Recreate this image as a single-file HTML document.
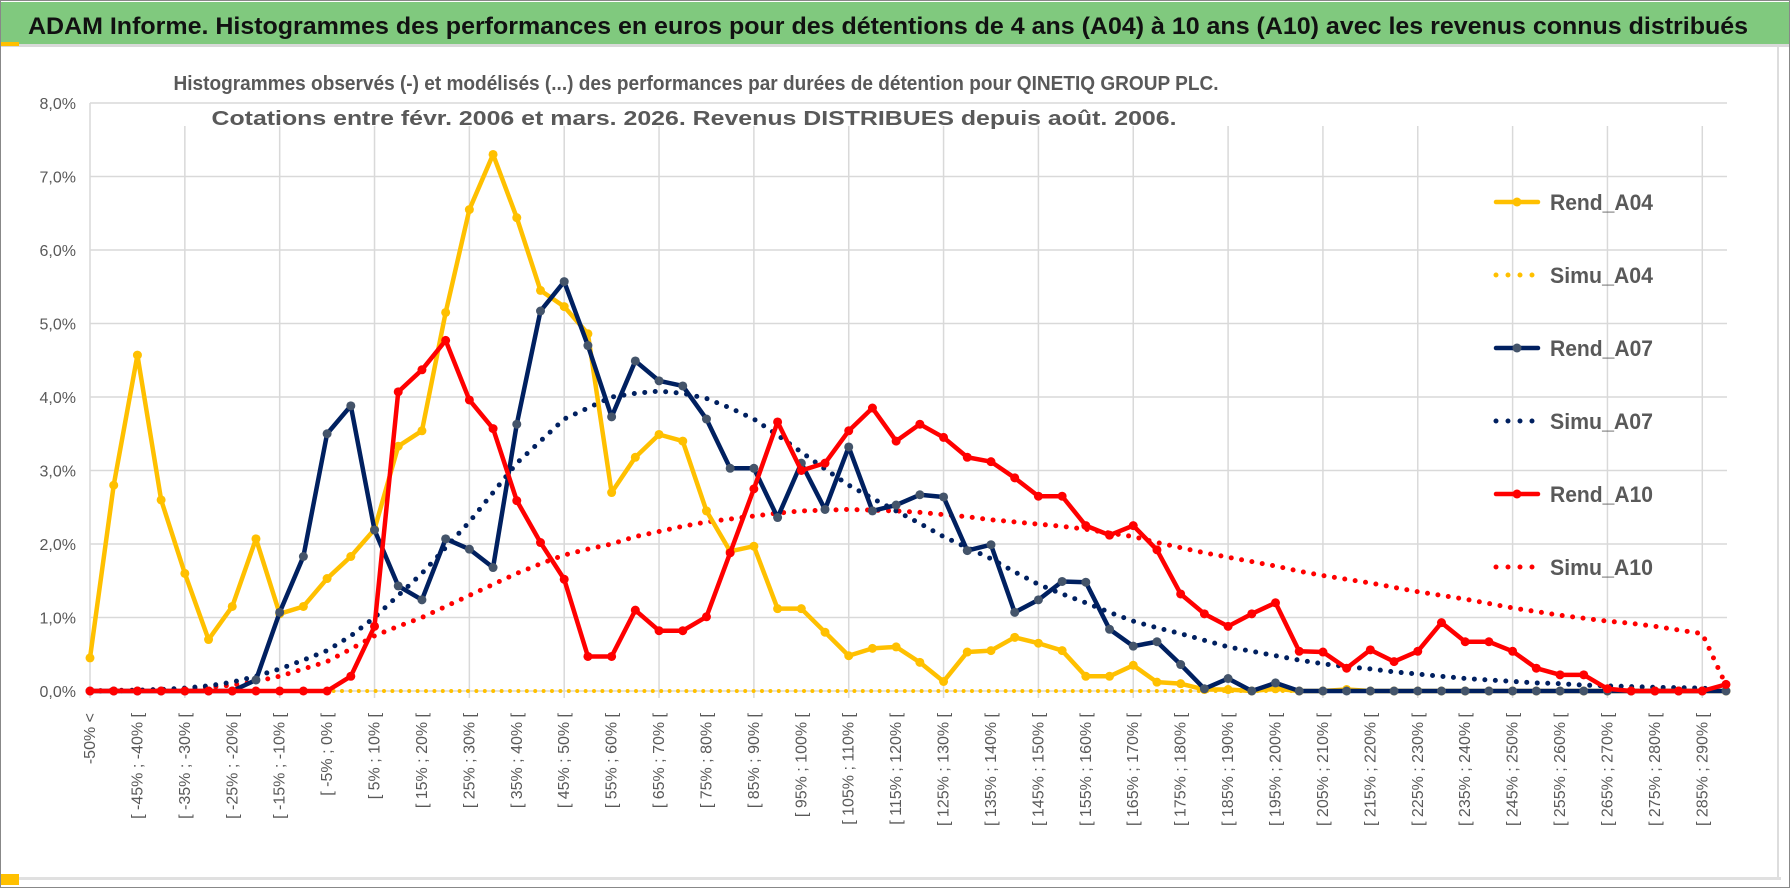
<!DOCTYPE html>
<html><head><meta charset="utf-8"><style>
html,body{margin:0;padding:0;background:#fff;}
svg{display:block;font-family:"Liberation Sans",sans-serif;}
</style></head><body>
<svg id="chart" width="1790" height="888" viewBox="0 0 1790 888">
<rect x="0.5" y="0.5" width="1789" height="887" fill="#fff" stroke="#888"/>
<rect x="1" y="2" width="1788" height="42" fill="#80C97E"/>
<rect x="1" y="44" width="1788" height="3" fill="#d9d9d9"/>
<rect x="1" y="42" width="18" height="4" fill="#FFC000"/>
<text x="28" y="34" font-size="24" font-weight="bold" fill="#111" textLength="1720" lengthAdjust="spacingAndGlyphs">ADAM Informe. Histogrammes des performances en euros pour des détentions de 4 ans (A04) à 10 ans (A10) avec les revenus connus distribués</text>
<rect x="1" y="877" width="1780" height="3" fill="#e0e0e0"/>
<rect x="1" y="874" width="18" height="11" fill="#FFC000"/>
<rect x="1777" y="47" width="2" height="830" fill="#ddd"/>
<g id="grid"></g>
<text x="696" y="90" font-size="20" font-weight="bold" fill="#595959" text-anchor="middle" textLength="1045" lengthAdjust="spacingAndGlyphs">Histogrammes observés (-) et modélisés (...) des performances par durées de détention pour QINETIQ GROUP PLC.</text>
<text x="694" y="125" font-size="20" font-weight="bold" fill="#595959" text-anchor="middle" textLength="965" lengthAdjust="spacingAndGlyphs">Cotations entre févr. 2006 et mars. 2026. Revenus DISTRIBUES depuis août. 2006.</text>
<g id="yaxis"></g>
<g id="xaxis"></g>
<g id="series"></g>
<g id="legend"></g>
</svg>
<script>
const yTicks = [0,1,2,3,4,5,6,7,8];
const yTickLabels = ["0,0%","1,0%","2,0%","3,0%","4,0%","5,0%","6,0%","7,0%","8,0%"];
const categories = (function(){const c=["-50% <"];for(let a=-50;a<295;a+=5){c.push("[ "+a+"% ; "+(a+5)+"% [");}return c;})();
const rendA04 = [0.45,2.8,4.57,2.6,1.6,0.7,1.15,2.07,1.05,1.15,1.53,1.83,2.2,3.33,3.54,5.15,6.55,7.3,6.44,5.45,5.23,4.86,2.7,3.18,3.49,3.4,2.45,1.9,1.97,1.12,1.12,0.8,0.48,0.58,0.6,0.39,0.13,0.53,0.55,0.73,0.65,0.55,0.2,0.2,0.35,0.12,0.1,0.02,0.02,0,0.03,0,0,0.02,0,0,0,0,0,0,0,0,0,0,0,0,0,0,0,0];
const simuA04 = [0,0,0,0,0,0,0,0,0,0,0,0,0,0,0,0,0,0,0,0,0,0,0,0,0,0,0,0,0,0,0,0,0,0,0,0,0,0,0,0,0,0,0,0,0,0,0,0,0,0,0,0,0,0,0,0,0,0,0,0,0,0,0,0,0,0,0,0,0,0];
const rendA07 = [0,0,0,0,0,0,0,0.15,1.07,1.83,3.5,3.88,2.19,1.43,1.24,2.07,1.93,1.68,3.63,5.17,5.57,4.7,3.73,4.49,4.22,4.15,3.7,3.03,3.03,2.36,3.1,2.47,3.32,2.45,2.53,2.67,2.64,1.91,1.99,1.07,1.24,1.49,1.48,0.84,0.61,0.67,0.36,0.03,0.17,0,0.11,0,0,0,0,0,0,0,0,0,0,0,0,0,0,0,0,0,0,0];
const simuA07 = [0,0,0.01,0.02,0.04,0.07,0.12,0.2,0.3,0.42,0.55,0.75,1.0,1.3,1.6,1.95,2.3,2.7,3.1,3.4,3.7,3.85,4.0,4.05,4.08,4.05,3.98,3.85,3.7,3.48,3.25,3.02,2.8,2.62,2.45,2.28,2.1,1.95,1.8,1.62,1.45,1.32,1.2,1.07,0.95,0.86,0.78,0.69,0.6,0.54,0.48,0.42,0.37,0.33,0.3,0.26,0.23,0.2,0.17,0.15,0.13,0.11,0.1,0.08,0.07,0.06,0.05,0.045,0.04,0.0];
const rendA10 = [0,0,0,0,0,0,0,0,0,0,0,0.2,0.88,4.07,4.37,4.77,3.96,3.57,2.59,2.02,1.52,0.47,0.47,1.1,0.82,0.82,1.01,1.88,2.75,3.66,3.0,3.1,3.54,3.85,3.4,3.63,3.45,3.18,3.12,2.9,2.65,2.65,2.25,2.12,2.25,1.92,1.32,1.05,0.88,1.05,1.2,0.54,0.53,0.31,0.56,0.4,0.54,0.93,0.67,0.67,0.54,0.31,0.22,0.22,0.03,0,0,0,0,0.09];
const simuA10 = [0,0.01,0.01,0.02,0.03,0.05,0.08,0.13,0.2,0.3,0.4,0.57,0.75,0.88,1.0,1.15,1.3,1.45,1.6,1.73,1.85,1.93,2.0,2.1,2.17,2.24,2.3,2.34,2.38,2.42,2.45,2.46,2.47,2.46,2.45,2.43,2.4,2.37,2.33,2.3,2.27,2.24,2.2,2.15,2.1,2.02,1.95,1.88,1.82,1.76,1.7,1.63,1.57,1.52,1.47,1.41,1.35,1.3,1.25,1.19,1.13,1.08,1.03,0.99,0.95,0.92,0.88,0.83,0.78,0.08];
const seriesNames = ["Rend_A04","Simu_A04","Rend_A07","Simu_A07","Rend_A10","Simu_A10"];

const NS="http://www.w3.org/2000/svg";
const X0=90, DX=(1726-90)/69, Y0=691, DY=73.5;
function xs(i){return X0+i*DX;}
function ys(v){return Y0-v*DY;}
function mk(tag,attrs,parent){const e=document.createElementNS(NS,tag);for(const k in attrs)e.setAttribute(k,attrs[k]);parent.appendChild(e);return e;}
const grid=document.getElementById('grid'), yax=document.getElementById('yaxis'), xax=document.getElementById('xaxis'), ser=document.getElementById('series'), leg=document.getElementById('legend');
yTicks.forEach((t,k)=>{
  const l=mk('line',{x1:X0,x2:1727,y1:ys(t),y2:ys(t),stroke:'#d9d9d9','stroke-width':1.5},grid);
  
  
  const tx=mk('text',{x:76,y:ys(t)+6,'font-size':16,fill:'#595959','text-anchor':'end'},yax);
  tx.textContent=yTickLabels[k];
  
  
});
categories.forEach((c,i)=>{
  if(i%4===0){
    const l=mk('line',{x1:xs(i),x2:xs(i),y1:i===0?ys(8):126,y2:Y0+7,stroke:'#d9d9d9','stroke-width':1.5},grid);
    
    
  }
  if(i%2===0 && i<69){
    const x=xs(i)+5;
    const tx=mk('text',{x:x,y:713,'font-size':16,fill:'#595959','text-anchor':'end',transform:'rotate(-90 '+x+' 713)'},xax);
    tx.textContent=c;
    
    
  }
});
function drawSolid(data,color,mcol,name){
  const g=mk('g',{},ser);
  
  
  const p=mk('polyline',{points:data.map((v,i)=>xs(i)+','+ys(v)).join(' '),fill:'none',stroke:color,'stroke-width':4.5,'stroke-linejoin':'round'},g);
  
  
  data.forEach((v,i)=>{
    const c=mk('circle',{cx:xs(i),cy:ys(v),r:4.5,fill:mcol},g);
    
    
  });
}
function drawDotted(data,color,name,w){
  const p=mk('polyline',{points:data.map((v,i)=>xs(i)+','+ys(v)).join(' '),fill:'none',stroke:color,'stroke-width':w,'stroke-linecap':'round','stroke-dasharray':'0 '+(w*2.1)},ser);
  
  
}
drawDotted(simuA04,'#FFC000','simu-a04',4);
drawDotted(simuA10,'#FF0000','simu-a10',5);
drawDotted(simuA07,'#002060','simu-a07',5);
drawSolid(rendA04,'#FFC000','#FFC000','rend-a04');
drawSolid(rendA07,'#002060','#44546A','rend-a07');
drawSolid(rendA10,'#FF0000','#FF0000','rend-a10');
const legCols=['#FFC000','#FFC000','#002060','#002060','#FF0000','#FF0000'];
seriesNames.forEach((n,k)=>{
  const y=202+k*73;
  const g=mk('g',{},leg);
  
  
  if(k%2===0){
    mk('line',{x1:1496,x2:1538,y1:y,y2:y,stroke:legCols[k],'stroke-width':4.5,'stroke-linecap':'round'},g);
    mk('circle',{cx:1517,cy:y,r:4.5,fill:k===2?'#44546A':legCols[k]},g);
  } else {
    mk('line',{x1:1496,x2:1537,y1:y,y2:y,stroke:legCols[k],'stroke-width':5,'stroke-linecap':'round','stroke-dasharray':'0 12'},g);
  }
  const t=mk('text',{x:1550,y:y+8,'font-size':22,'font-weight':'bold',fill:'#595959',textLength:103,lengthAdjust:'spacingAndGlyphs'},g);
  t.textContent=n;
});
</script>
</body></html>
